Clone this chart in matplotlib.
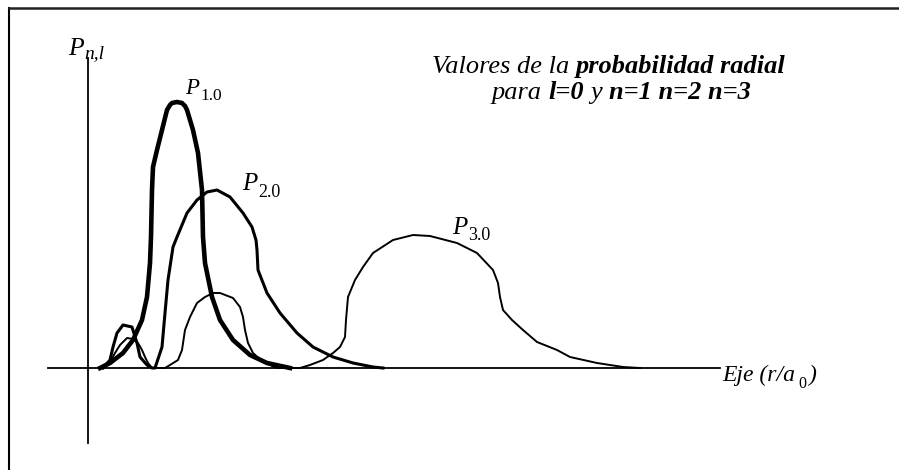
import matplotlib.pyplot as plt
import matplotlib.transforms as mtransforms
from matplotlib.lines import Line2D

plt.rcParams['font.family'] = ['Liberation Serif', 'DejaVu Serif']

# radial probability curves, r in arbitrary units of a0
r10 = [0.60, 0.70, 1.10, 1.75, 2.25, 2.70, 2.95, 3.10, 3.15, 3.20, 3.25, 3.45, 3.70, 3.95,
       4.10, 4.20, 4.45, 4.70, 4.85, 4.95, 5.25, 5.50, 5.70, 5.75, 5.85, 6.20, 6.60, 7.25,
       8.10, 8.95, 10.10]
p10 = [0.00, 0.01, 0.05, 0.15, 0.28, 0.48, 0.71, 1.05, 1.31, 1.78, 2.01, 2.18, 2.38, 2.58,
       2.63, 2.65, 2.66, 2.65, 2.62, 2.58, 2.38, 2.15, 1.78, 1.31, 1.05, 0.71, 0.48, 0.28,
       0.13, 0.05, 0.00]

r20 = [0.75, 1.10, 1.25, 1.45, 1.75, 2.20, 2.45, 2.60, 2.95, 3.20, 3.35, 3.70, 3.85, 4.00,
       4.25, 4.45, 4.95, 5.45, 5.95, 6.45, 7.10, 7.75, 8.20, 8.40, 8.45, 8.50, 8.95, 9.60,
       10.45, 11.25, 12.25, 13.25, 14.25, 14.75]
p20 = [0.00, 0.08, 0.21, 0.35, 0.43, 0.41, 0.25, 0.11, 0.03, 0.00, 0.00, 0.21, 0.55, 0.88,
       1.21, 1.31, 1.55, 1.68, 1.76, 1.78, 1.71, 1.55, 1.41, 1.28, 1.18, 0.98, 0.75, 0.55,
       0.35, 0.21, 0.11, 0.05, 0.01, 0.00]

r30 = [0.80, 1.10, 1.35, 1.60, 1.95, 2.25, 2.50, 2.70, 2.85, 3.00, 3.20, 3.85, 4.10, 4.50,
       4.70, 4.85, 5.10, 5.45, 5.85, 6.25, 6.60, 7.25, 7.60, 7.75, 7.85, 8.00, 8.25, 8.75,
       9.45, 10.60, 11.10, 11.75, 12.25, 12.60, 12.85, 12.90, 13.00, 13.35, 13.75, 14.25,
       15.25, 16.25, 17.10, 18.45, 19.45, 20.25, 20.50, 20.60, 20.75, 21.20, 21.75, 22.45,
       23.45, 24.10, 25.45, 26.75, 27.60]
p30 = [0.00, 0.06, 0.15, 0.23, 0.30, 0.29, 0.25, 0.18, 0.11, 0.05, 0.00, 0.00, 0.03, 0.08,
       0.18, 0.38, 0.51, 0.65, 0.71, 0.75, 0.75, 0.70, 0.61, 0.51, 0.38, 0.25, 0.15, 0.06,
       0.00, 0.00, 0.03, 0.08, 0.15, 0.21, 0.31, 0.48, 0.71, 0.88, 1.01, 1.15,
       1.28, 1.33, 1.32, 1.25, 1.15, 0.98, 0.85, 0.71, 0.58, 0.48, 0.38, 0.26,
       0.18, 0.11, 0.05, 0.01, 0.00]

W, H = 899, 470
fig = plt.figure(figsize=(W / 100, H / 100), dpi=100)
ax = fig.add_axes([0, 0, 1, 1])
ax.set_xlim(-4.4, 40.55)
ax.set_ylim(-1.02, 3.68)
ax.axis('off')

# axes drawn by hand through the origin
ax.plot([-2.0, 31.6], [0, 0], color='black', lw=1.3)
ax.plot([0, 0], [-0.75, 3.10], color='black', lw=1.3)

ax.plot(r30, p30, color='black', lw=1.4, solid_joinstyle='round')
ax.plot(r20, p20, color='black', lw=2.2, solid_joinstyle='round')
ax.plot(r10, p10, color='black', lw=3.3, solid_joinstyle='round')

# frame (left and top edges)
fig.add_artist(Line2D([9 / W, 9 / W], [0, 1 - 8 / H], transform=fig.transFigure,
                      color='black', lw=1.5))
fig.add_artist(Line2D([9 / W, 1], [1 - 8 / H, 1 - 8 / H], transform=fig.transFigure,
                      color='#222222', lw=1.8))

pix = mtransforms.IdentityTransform()
renderer = fig.canvas.get_renderer()


def put(x, y, s, size, style='italic', weight='normal'):
    return fig.text(x, H - y, s, transform=pix, fontsize=size, style=style,
                    weight=weight, ha='left', va='baseline', color='black')


def width(t):
    return t.get_window_extent(renderer).width


def label(x, y, sub, size=18, subsize=13, drop=7, substyle='normal'):
    t = put(x, y, 'P', size)
    put(x + width(t) + 1, y + drop, sub, subsize, style=substyle)


def row(pieces, cx, y, size):
    # pieces: (text, weight, space_after)
    gap = 0.25 * size * 100 / 72
    texts = [put(0, y, s, size, weight=w) for s, w, _ in pieces]
    ws = [width(t) for t in texts]
    total = sum(ws) + gap * sum(1 for _, _, sp in pieces[:-1] if sp)
    x = cx - total / 2
    for t, w, (_, _, sp) in zip(texts, ws, pieces):
        t.set_x(x)
        x += w + (gap if sp else 0)


label(68, 55, 'n,l', size=18.5, subsize=14, drop=3, substyle='italic')
label(185, 94, '1.0', size=16.5, subsize=12.5, drop=6)
label(242, 190, '2.0', size=18, subsize=13, drop=7)
label(452, 234, '3.0', size=18, subsize=13, drop=6)

row([('Valores de la', 'normal', True), ('probabilidad radial', 'bold', False)],
    609, 73, 19)
row([('para', 'normal', True), ('l=0', 'bold', True), ('y', 'normal', True),
     ('n=1 n=2 n=3', 'bold', False)], 621, 99, 19)

t = put(722, 381, 'Eje (r/a', 17)
x0 = 722 + width(t) + 3
t0 = put(x0, 388, '0', 11.5, style='normal')
put(x0 + width(t0) + 2, 381, ')', 17)

fig.savefig('out.png', dpi=100)
